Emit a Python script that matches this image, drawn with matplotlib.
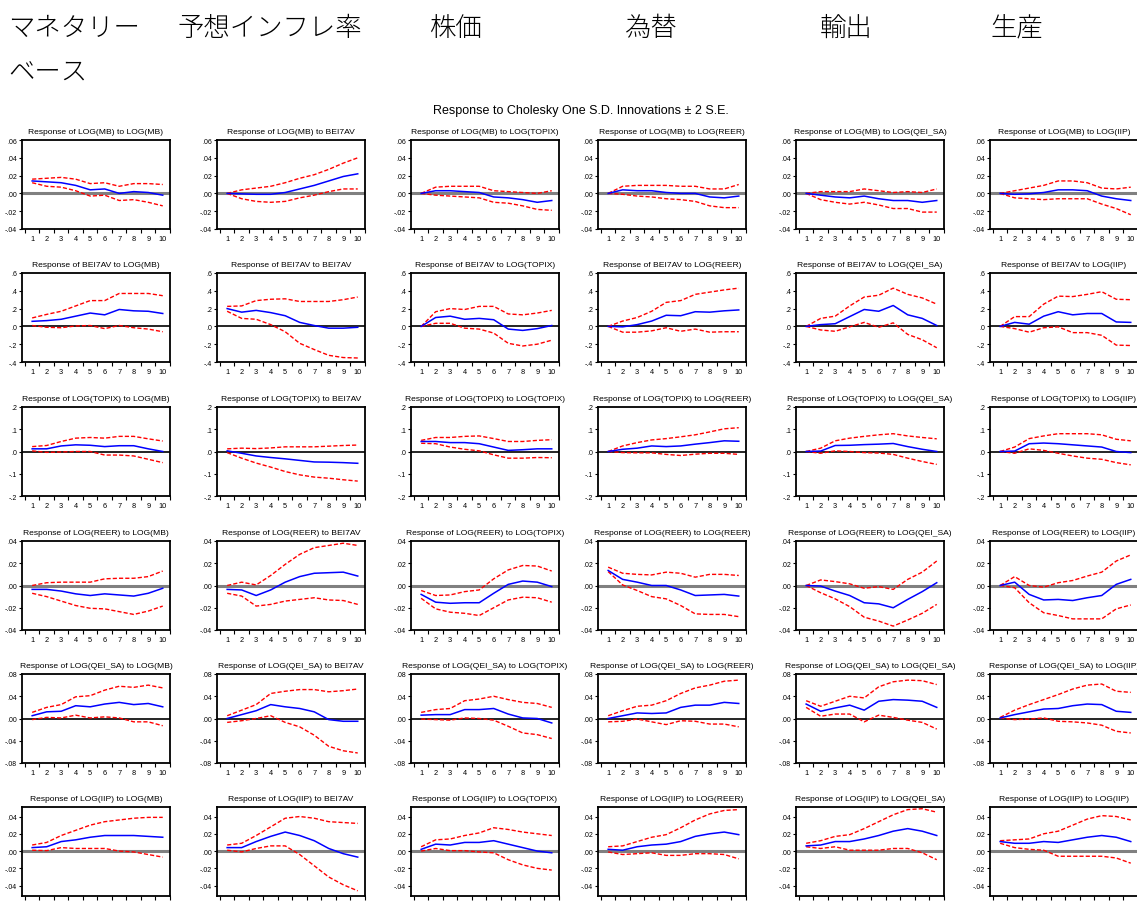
import numpy as np
import matplotlib.pyplot as plt
from matplotlib.ticker import FixedLocator, FuncFormatter

plt.rcParams['font.family'] = ['Liberation Sans', 'DejaVu Sans']
plt.rcParams['axes.unicode_minus'] = False

# variable names (Cholesky ordering)
names = ['LOG(MB)', 'BEI7AV', 'LOG(TOPIX)', 'LOG(REER)', 'LOG(QEI_SA)', 'LOG(IIP)']
headers = ['マネタリー', '予想インフレ率', '株価', '為替', '輸出', '生産']
periods = np.arange(1, 11)

# ---- responses of LOG(MB) ----
mb_resp = [
    [0.014, 0.013, 0.012, 0.009, 0.004, 0.005, 0.000, 0.002, 0.001, -0.002],
    [0.0, -0.0005, -0.001, -0.001, 0.001, 0.005, 0.009, 0.014, 0.019, 0.022],
    [0.0, 0.003, 0.003, 0.002, 0.001, -0.004, -0.005, -0.007, -0.010, -0.008],
    [0.0, 0.004, 0.003, 0.003, 0.001, 0.000, 0.000, -0.004, -0.005, -0.003],
    [0.0, -0.002, -0.004, -0.005, -0.003, -0.006, -0.008, -0.008, -0.010, -0.008],
    [0.0, -0.001, -0.0005, 0.001, 0.004, 0.004, 0.003, -0.003, -0.006, -0.008],
]
mb_upper = [
    [0.016, 0.017, 0.018, 0.016, 0.011, 0.012, 0.008, 0.011, 0.011, 0.010],
    [0.0, 0.004, 0.006, 0.008, 0.012, 0.017, 0.021, 0.027, 0.034, 0.040],
    [0.0, 0.007, 0.008, 0.008, 0.008, 0.003, 0.002, 0.001, 0.000, 0.003],
    [0.0, 0.008, 0.009, 0.009, 0.009, 0.008, 0.008, 0.005, 0.005, 0.010],
    [0.0, 0.002, 0.002, 0.002, 0.005, 0.003, 0.001, 0.002, 0.001, 0.005],
    [0.0, 0.003, 0.006, 0.009, 0.014, 0.014, 0.012, 0.006, 0.005, 0.007],
]
mb_lower = [
    [0.012, 0.008, 0.007, 0.003, -0.003, -0.002, -0.008, -0.007, -0.010, -0.014],
    [0.0, -0.006, -0.009, -0.010, -0.009, -0.005, -0.002, 0.002, 0.005, 0.005],
    [0.0, -0.002, -0.003, -0.004, -0.005, -0.010, -0.011, -0.014, -0.018, -0.019],
    [0.0, -0.001, -0.003, -0.004, -0.006, -0.007, -0.009, -0.014, -0.016, -0.016],
    [0.0, -0.007, -0.010, -0.012, -0.010, -0.013, -0.017, -0.017, -0.021, -0.021],
    [0.0, -0.005, -0.006, -0.007, -0.006, -0.006, -0.006, -0.012, -0.017, -0.024],
]

# ---- responses of BEI7AV ----
bei_resp = [
    [0.057, 0.065, 0.08, 0.115, 0.15, 0.13, 0.19, 0.175, 0.17, 0.145],
    [0.20, 0.16, 0.18, 0.155, 0.12, 0.045, 0.01, -0.02, -0.02, -0.01],
    [0.0, 0.10, 0.115, 0.08, 0.09, 0.075, -0.03, -0.045, -0.025, 0.01],
    [0.0, -0.005, 0.02, 0.06, 0.125, 0.12, 0.165, 0.16, 0.175, 0.185],
    [0.0, 0.02, 0.03, 0.11, 0.19, 0.17, 0.235, 0.13, 0.09, 0.01],
    [0.0, 0.045, 0.025, 0.115, 0.165, 0.13, 0.145, 0.145, 0.05, 0.045],
]
bei_upper = [
    [0.095, 0.135, 0.17, 0.23, 0.29, 0.29, 0.37, 0.37, 0.37, 0.345],
    [0.225, 0.23, 0.29, 0.305, 0.31, 0.28, 0.28, 0.28, 0.30, 0.33],
    [0.0, 0.165, 0.20, 0.19, 0.225, 0.225, 0.14, 0.13, 0.15, 0.18],
    [0.0, 0.06, 0.10, 0.17, 0.27, 0.29, 0.36, 0.385, 0.41, 0.43],
    [0.0, 0.09, 0.115, 0.23, 0.33, 0.35, 0.43, 0.36, 0.32, 0.25],
    [0.0, 0.11, 0.11, 0.25, 0.34, 0.335, 0.36, 0.39, 0.305, 0.30],
]
bei_lower = [
    [0.01, -0.01, -0.015, 0.005, 0.01, -0.025, 0.01, -0.015, -0.03, -0.06],
    [0.17, 0.09, 0.08, 0.02, -0.06, -0.19, -0.26, -0.325, -0.35, -0.355],
    [0.0, 0.035, 0.035, -0.02, -0.03, -0.075, -0.19, -0.22, -0.20, -0.155],
    [0.0, -0.065, -0.065, -0.05, -0.015, -0.055, -0.03, -0.065, -0.06, -0.06],
    [0.0, -0.04, -0.055, -0.005, 0.045, -0.01, 0.04, -0.09, -0.15, -0.24],
    [0.0, -0.025, -0.065, -0.015, -0.005, -0.07, -0.07, -0.10, -0.21, -0.215],
]

# ---- responses of LOG(TOPIX) ----
topix_resp = [
    [0.012, 0.012, 0.025, 0.03, 0.028, 0.022, 0.026, 0.026, 0.012, 0.0],
    [0.003, -0.008, -0.02, -0.027, -0.033, -0.04, -0.047, -0.048, -0.05, -0.053],
    [0.045, 0.045, 0.04, 0.04, 0.035, 0.02, 0.005, 0.008, 0.012, 0.012],
    [0.0, 0.01, 0.015, 0.025, 0.022, 0.025, 0.033, 0.04, 0.048, 0.046],
    [0.0, 0.002, 0.027, 0.028, 0.031, 0.033, 0.036, 0.022, 0.01, 0.0],
    [0.0, 0.002, 0.035, 0.038, 0.035, 0.03, 0.025, 0.02, 0.0, -0.005],
]
topix_upper = [
    [0.022, 0.027, 0.045, 0.06, 0.063, 0.06, 0.068, 0.068, 0.057, 0.047],
    [0.012, 0.015, 0.013, 0.016, 0.021, 0.021, 0.021, 0.024, 0.027, 0.029],
    [0.05, 0.063, 0.063, 0.068, 0.07, 0.058, 0.045, 0.045, 0.05, 0.053],
    [0.0, 0.025, 0.04, 0.052, 0.058, 0.066, 0.075, 0.088, 0.102, 0.107],
    [0.0, 0.015, 0.048, 0.06, 0.068, 0.075, 0.08, 0.07, 0.063, 0.057],
    [0.0, 0.02, 0.058, 0.07, 0.08, 0.08, 0.08, 0.075, 0.055, 0.048],
]
topix_lower = [
    [0.003, -0.004, -0.002, 0.0, 0.0, -0.016, -0.016, -0.02, -0.035, -0.05],
    [-0.005, -0.03, -0.052, -0.07, -0.09, -0.105, -0.115, -0.12, -0.127, -0.133],
    [0.037, 0.035, 0.02, 0.01, 0.003, -0.015, -0.03, -0.03, -0.027, -0.028],
    [0.0, -0.005, -0.006, -0.006, -0.013, -0.018, -0.012, -0.008, -0.008, -0.013],
    [0.0, -0.008, 0.003, 0.0, -0.005, -0.007, -0.013, -0.03, -0.045, -0.058],
    [0.0, -0.008, 0.012, 0.005, -0.008, -0.02, -0.03, -0.035, -0.05, -0.06],
]

# ---- responses of LOG(REER) ----
reer_resp = [
    [-0.0035, -0.0035, -0.005, -0.0075, -0.009, -0.0075, -0.0085, -0.0095, -0.007, -0.0025],
    [-0.0035, -0.004, -0.009, -0.004, 0.003, 0.008, 0.011, 0.0115, 0.012, 0.0085],
    [-0.008, -0.015, -0.016, -0.0155, -0.0155, -0.007, 0.001, 0.004, 0.003, -0.001],
    [0.0135, 0.0055, 0.003, 0.0, 0.0, -0.004, -0.009, -0.0085, -0.008, -0.0095],
    [0.0, -0.0005, -0.005, -0.009, -0.0155, -0.0165, -0.020, -0.0125, -0.0055, 0.0025],
    [0.0, 0.003, -0.008, -0.013, -0.0125, -0.0135, -0.011, -0.009, 0.001, 0.0055],
]
reer_upper = [
    [0.0, 0.0025, 0.003, 0.003, 0.003, 0.006, 0.0065, 0.0065, 0.008, 0.013],
    [0.0, 0.003, 0.0005, 0.009, 0.019, 0.028, 0.034, 0.036, 0.038, 0.036],
    [-0.0045, -0.009, -0.0085, -0.0055, -0.004, 0.006, 0.014, 0.018, 0.0175, 0.013],
    [0.0165, 0.011, 0.010, 0.0095, 0.012, 0.011, 0.0075, 0.010, 0.010, 0.009],
    [0.0, 0.005, 0.0035, 0.0015, -0.0025, -0.001, -0.0035, 0.0055, 0.012, 0.022],
    [0.0, 0.008, 0.0, -0.0015, 0.0025, 0.0045, 0.0085, 0.012, 0.022, 0.0275],
]
reer_lower = [
    [-0.007, -0.010, -0.014, -0.018, -0.0205, -0.021, -0.0235, -0.026, -0.023, -0.0185],
    [-0.007, -0.0095, -0.0185, -0.017, -0.014, -0.0125, -0.011, -0.013, -0.0135, -0.017],
    [-0.0115, -0.021, -0.024, -0.025, -0.027, -0.020, -0.013, -0.0105, -0.011, -0.015],
    [0.0125, 0.0005, -0.0045, -0.010, -0.012, -0.018, -0.0255, -0.026, -0.026, -0.028],
    [0.0, -0.0065, -0.012, -0.019, -0.0285, -0.032, -0.0365, -0.031, -0.025, -0.017],
    [0.0, -0.002, -0.0155, -0.0245, -0.027, -0.030, -0.030, -0.030, -0.021, -0.0175],
]

# ---- responses of LOG(QEI_SA) ----
qei_resp = [
    [0.005, 0.012, 0.013, 0.023, 0.021, 0.026, 0.029, 0.025, 0.027, 0.021],
    [0.0, 0.007, 0.014, 0.025, 0.021, 0.018, 0.012, -0.002, -0.005, -0.005],
    [0.006, 0.007, 0.007, 0.016, 0.016, 0.018, 0.008, 0.001, 0.0, -0.008],
    [0.0, 0.005, 0.010, 0.009, 0.010, 0.020, 0.024, 0.024, 0.029, 0.027],
    [0.026, 0.013, 0.019, 0.024, 0.015, 0.031, 0.034, 0.033, 0.031, 0.020],
    [0.001, 0.007, 0.012, 0.017, 0.018, 0.023, 0.026, 0.025, 0.013, 0.011],
]
qei_upper = [
    [0.011, 0.020, 0.025, 0.039, 0.041, 0.051, 0.058, 0.056, 0.06, 0.055],
    [0.005, 0.015, 0.025, 0.045, 0.049, 0.052, 0.052, 0.048, 0.05, 0.053],
    [0.011, 0.016, 0.018, 0.032, 0.035, 0.040, 0.034, 0.029, 0.027, 0.02],
    [0.005, 0.014, 0.022, 0.024, 0.032, 0.045, 0.055, 0.06, 0.067, 0.069],
    [0.032, 0.022, 0.031, 0.040, 0.037, 0.057, 0.066, 0.069, 0.068, 0.061],
    [0.002, 0.015, 0.025, 0.034, 0.043, 0.053, 0.06, 0.062, 0.049, 0.047],
]
qei_lower = [
    [-0.002, 0.002, 0.001, 0.006, 0.001, 0.003, 0.001, -0.006, -0.006, -0.013],
    [-0.007, -0.004, 0.0, 0.005, -0.007, -0.015, -0.03, -0.05, -0.058, -0.062],
    [-0.001, -0.002, -0.003, 0.001, 0.0, -0.003, -0.014, -0.026, -0.029, -0.036],
    [-0.006, -0.005, -0.001, -0.006, -0.011, -0.004, -0.005, -0.01, -0.01, -0.015],
    [0.020, 0.004, 0.008, 0.008, -0.006, 0.006, 0.002, -0.003, -0.007, -0.019],
    [0.001, -0.002, -0.001, 0.001, -0.005, -0.006, -0.008, -0.012, -0.023, -0.026],
]

# ---- responses of LOG(IIP) ----
iip_resp = [
    [0.004, 0.005, 0.011, 0.013, 0.016, 0.018, 0.018, 0.018, 0.017, 0.016],
    [0.004, 0.004, 0.011, 0.017, 0.022, 0.018, 0.012, 0.003, -0.003, -0.007],
    [0.002, 0.008, 0.007, 0.010, 0.010, 0.012, 0.008, 0.004, 0.0, -0.002],
    [0.002, 0.001, 0.005, 0.007, 0.008, 0.011, 0.017, 0.020, 0.022, 0.019],
    [0.006, 0.007, 0.011, 0.011, 0.014, 0.018, 0.023, 0.026, 0.023, 0.018],
    [0.011, 0.009, 0.009, 0.011, 0.010, 0.013, 0.016, 0.018, 0.016, 0.011],
]
iip_upper = [
    [0.007, 0.010, 0.018, 0.024, 0.030, 0.034, 0.036, 0.038, 0.039, 0.039],
    [0.007, 0.009, 0.018, 0.028, 0.038, 0.040, 0.038, 0.034, 0.033, 0.032],
    [0.005, 0.013, 0.014, 0.018, 0.021, 0.027, 0.025, 0.022, 0.020, 0.018],
    [0.005, 0.006, 0.011, 0.016, 0.019, 0.027, 0.036, 0.043, 0.047, 0.048],
    [0.009, 0.012, 0.017, 0.019, 0.026, 0.034, 0.042, 0.048, 0.049, 0.045],
    [0.012, 0.013, 0.014, 0.020, 0.023, 0.030, 0.037, 0.041, 0.040, 0.036],
]
iip_lower = [
    [0.001, 0.0005, 0.004, 0.003, 0.003, 0.003, 0.0, -0.001, -0.004, -0.007],
    [0.001, -0.001, 0.003, 0.006, 0.006, -0.004, -0.017, -0.030, -0.039, -0.046],
    [0.0, 0.003, 0.0005, 0.0005, -0.001, -0.002, -0.010, -0.016, -0.020, -0.022],
    [-0.001, -0.004, -0.003, -0.002, -0.005, -0.005, -0.003, -0.003, -0.004, -0.009],
    [0.005, 0.003, 0.005, 0.001, 0.001, 0.001, 0.003, 0.003, -0.002, -0.010],
    [0.009, 0.004, 0.002, 0.001, -0.006, -0.006, -0.006, -0.006, -0.008, -0.014],
]

resp = [mb_resp, bei_resp, topix_resp, reer_resp, qei_resp, iip_resp]
upper = [mb_upper, bei_upper, topix_upper, reer_upper, qei_upper, iip_upper]
lower = [mb_lower, bei_lower, topix_lower, reer_lower, qei_lower, iip_lower]

# y axis setup per response variable
ylims = [(-0.04, 0.06), (-0.4, 0.6), (-0.2, 0.2), (-0.04, 0.04), (-0.08, 0.08), (-0.052, 0.051)]
yticks = [np.arange(-0.04, 0.061, 0.02), np.arange(-0.4, 0.61, 0.2), np.arange(-0.2, 0.21, 0.1),
          np.arange(-0.04, 0.041, 0.02), np.arange(-0.08, 0.081, 0.04), np.arange(-0.04, 0.041, 0.02)]
ydec = [2, 1, 1, 2, 2, 2]
zero_gray = [True, False, False, True, False, True]


def short_fmt(dec):
    # eviews style labels: .06, -.02, .00
    def f(v, pos):
        s = f'{v:.{dec}f}'
        if float(s) == 0:
            s = s.lstrip('-')
        if s.startswith('-0'):
            s = '-' + s[2:]
        elif s.startswith('0'):
            s = s[1:]
        return s
    return FuncFormatter(f)


W, H = 1137, 904
fig = plt.figure(figsize=(W / 100, H / 100), dpi=100)

# Japanese headers above the columns
jp = ['Noto Sans CJK JP', 'DejaVu Sans']
head_x = [8, 178, 430, 625, 820, 990]
for hx, t in zip(head_x, headers):
    fig.text(hx / W, 1 - 28 / H, t, fontsize=19, va='center', ha='left',
             family=jp, weight='light')
fig.text(8 / W, 1 - 73 / H, 'ベース', fontsize=19, va='center', ha='left',
         family=jp, weight='light')

fig.text(581 / W, 1 - 111 / H, 'Response to Cholesky One S.D. Innovations \u00b1 2 S.E.',
         fontsize=9, ha='center', va='center')

col_left = [22, 217, 411, 598, 796, 990]
row_top = [141, 274, 408, 542, 675, 808]
aw, ah = 148, 89

for i in range(6):
    for j in range(6):
        ax = fig.add_axes([col_left[j] / W, 1 - (row_top[i] + ah) / H, aw / W, ah / H])
        if zero_gray[i]:
            ax.axhline(0, color='#808080', lw=2.2, zorder=1)
        else:
            ax.axhline(0, color='black', lw=1.2, zorder=1)
        ax.plot(periods, upper[i][j], color='#ff0000', lw=1.0, ls=(0, (3, 1.5)), zorder=2)
        ax.plot(periods, lower[i][j], color='#ff0000', lw=1.0, ls=(0, (3, 1.5)), zorder=2)
        ax.plot(periods, resp[i][j], color='#0000ff', lw=1.1, zorder=3)

        ax.set_xlim(0.3, 10.5)
        ax.set_ylim(*ylims[i])
        ax.xaxis.set_major_locator(FixedLocator(periods))
        ax.xaxis.set_minor_locator(FixedLocator(np.arange(0.5, 10.6, 1.0)))
        ax.tick_params(axis='x', which='major', length=0, labelsize=5.3, pad=4)
        ax.tick_params(axis='x', which='minor', length=3, width=0.8, direction='out')
        ax.set_yticks(yticks[i])
        ax.yaxis.set_major_formatter(short_fmt(ydec[i]))
        ax.tick_params(axis='y', length=2.5, width=0.8, direction='out', labelsize=5, pad=1)
        for s in ax.spines.values():
            s.set_linewidth(1.3)
        ax.set_title(f'Response of {names[i]} to {names[j]}', fontsize=6.1, pad=5)

fig.savefig('out.png', dpi=100)
